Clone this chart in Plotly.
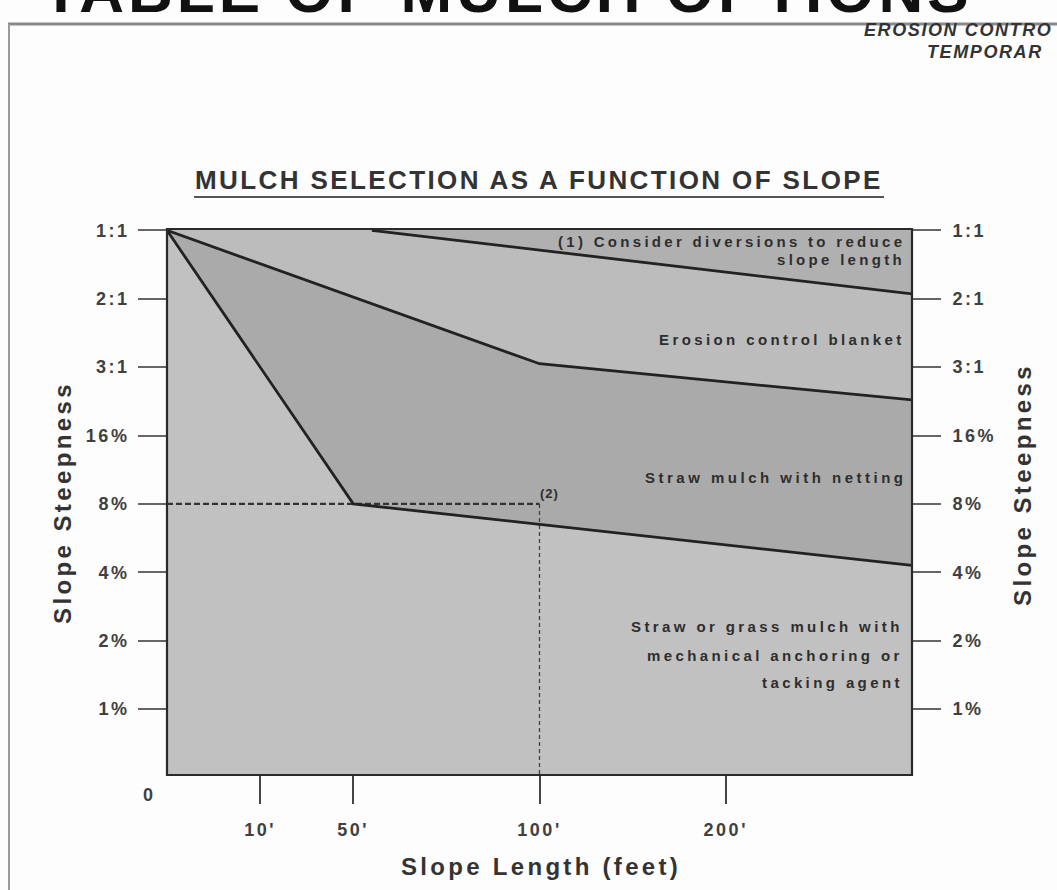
import plotly.graph_objects as go

# ---------------- data ----------------
length_labels = ["10'", "50'", "100'", "200'"]
length_pos = [1, 2, 4, 6]
steep_labels = ["1%", "2%", "4%", "8%", "16%", "3:1", "2:1", "1:1"]
steep_pos = [0, 1, 2, 3, 4, 5, 6, 7]
x_max = 8
y_min, y_max = -0.965, 7.02

# boundary lines (x = slope-length position, y = steepness position)
netting_x = [0, 2, 8]          # lower limit of "straw mulch with netting"
netting_y = [7, 3, 2.1]
blanket_x = [0, 4, 8]          # lower limit of "erosion control blanket"
blanket_y = [7, 5.05, 4.52]
diversion_x = [2.2, 8]         # lower limit of "consider diversions"
diversion_y = [7, 6.07]
ref_len = 4                    # 100'
ref_steep = 3                  # 8%

# ---------------- layout helpers ----------------
W, H = 1057, 890
L, R, T, B = 167, 912, 229, 775


def px(xp):
    return (xp - L) / (R - L)


def py(yp):
    return (B - yp) / (B - T)


def sp(text, ls):
    return f"<span style='letter-spacing:{ls}px'>{text}</span>"


FONT = "Liberation Sans, Arial, sans-serif"
LINE = "#222222"

fig = go.Figure()

# region fills
fig.add_trace(go.Scatter(x=netting_x + blanket_x[::-1], y=netting_y + blanket_y[::-1],
                         fill="toself", fillcolor="#aaaaaa", mode="none", hoverinfo="skip"))
fig.add_trace(go.Scatter(x=blanket_x + diversion_x[::-1], y=blanket_y + diversion_y[::-1],
                         fill="toself", fillcolor="#bcbcbc", mode="none", hoverinfo="skip"))
fig.add_trace(go.Scatter(x=[0] + diversion_x + [x_max, 0], y=[7] + diversion_y + [y_max, y_max],
                         fill="toself", fillcolor="#b0b0b0", mode="none", hoverinfo="skip"))

# dashed reference lines
fig.add_trace(go.Scatter(x=[0, ref_len], y=[ref_steep, ref_steep], mode="lines",
                         line=dict(color="#333333", width=2.2, dash="6px,3px"), hoverinfo="skip"))
fig.add_trace(go.Scatter(x=[ref_len, ref_len], y=[ref_steep, y_min], mode="lines",
                         line=dict(color="#444444", width=1.3, dash="4px,3px"), hoverinfo="skip"))

# boundary lines
for xs, ys in [(netting_x, netting_y), (blanket_x, blanket_y), (diversion_x, diversion_y)]:
    fig.add_trace(go.Scatter(x=xs, y=ys, mode="lines", line=dict(color=LINE, width=2.8),
                             hoverinfo="skip"))

# invisible trace for right axis
fig.add_trace(go.Scatter(x=[0], y=[0], yaxis="y2", mode="markers", marker=dict(opacity=0),
                         hoverinfo="skip"))

tickfont = dict(family=FONT, size=18, color="#404040", weight="bold")

fig.update_layout(
    width=W, height=H,
    margin=dict(l=L, r=W - R, t=T, b=H - B, pad=0),
    paper_bgcolor="#fdfdfd",
    plot_bgcolor="#c1c1c1",
    showlegend=False,
    xaxis=dict(range=[0, x_max], showgrid=False, zeroline=False,
               tickvals=length_pos, ticktext=[sp(t, 2.5) for t in length_labels],
               ticks="outside", ticklen=28, tickwidth=2, tickcolor="#444444",
               ticklabelstandoff=10, tickfont=tickfont, fixedrange=True),
    yaxis=dict(range=[y_min, y_max], showgrid=False, zeroline=False,
               tickvals=steep_pos, ticktext=[sp(t, 2.5) for t in steep_labels],
               ticks="outside", ticklen=28, tickwidth=1.6, tickcolor="#666666",
               ticklabelstandoff=5, tickfont=tickfont),
    yaxis2=dict(range=[y_min, y_max], overlaying="y", side="right", showgrid=False,
                zeroline=False, tickvals=steep_pos, ticktext=[sp(t, 2.5) for t in steep_labels],
                ticks="outside", ticklen=28, tickwidth=1.6, tickcolor="#666666",
                ticklabelstandoff=8, tickfont=tickfont),
)

# plot border
fig.add_shape(type="rect", xref="paper", yref="paper", x0=0, x1=1, y0=0, y1=1,
              line=dict(color="#2a2a2a", width=2.2), layer="above")
# page frame
fig.add_shape(type="line", xref="paper", yref="paper", x0=px(8), x1=px(1057), y0=py(24), y1=py(24),
              line=dict(color="#8a8a8a", width=3))
fig.add_shape(type="line", xref="paper", yref="paper", x0=px(9), x1=px(9), y0=py(24), y1=py(890),
              line=dict(color="#9a9a9a", width=2))
# title underline
fig.add_shape(type="line", xref="paper", yref="paper", x0=px(194), x1=px(884), y0=py(197), y1=py(197),
              line=dict(color="#555555", width=2))

txt = "#2e2e2e"


def ann(text, x, y, size, ls, xanchor="center", yanchor="middle", ref="paper", color=txt,
        angle=0, style="normal", weight="bold"):
    fig.add_annotation(text=sp(text, ls), x=x, y=y, xref=ref if ref == "paper" else "x",
                       yref=ref if ref == "paper" else "y", showarrow=False,
                       xanchor=xanchor, yanchor=yanchor, textangle=angle,
                       font=dict(family=FONT, size=size, color=color, weight=weight, style=style))


# header (cut off at the top of the page, as in the scan)
ann("TABLE OF MULCH OPTIONS", px(40), py(-10), 62, 4, xanchor="left", color="#111111")
ann("EROSION CONTRO", px(862), py(30), 18, 1.6, xanchor="left", style="italic", color="#333333")
ann("TEMPORAR", px(925), py(52), 18, 1.6, xanchor="left", style="italic", color="#333333")

# chart title and axis titles
ann("MULCH SELECTION AS A FUNCTION OF SLOPE", px(538.5), py(180), 26, 2.4, color="#333333")
ann("Slope Length (feet)", px(541), py(866), 24, 3.3, color="#333333")
ann("Slope Steepness", px(62), py(503), 24, 3.4, angle=-90, color="#333333")
ann("Slope Steepness", px(1022), py(485), 24, 3.4, angle=-90, color="#333333")
ann("0", px(148), py(795), 18, 0, color="#404040")

# region labels (data coordinates)
xr = 7.95
ann("(1) Consider diversions to reduce", xr, 6.84, 15, 3.3, xanchor="right", ref="data")
ann("slope length", xr, 6.58, 15, 3.3, xanchor="right", ref="data")
ann("Erosion control blanket", xr, 5.41, 15, 3.4, xanchor="right", ref="data")
ann("Straw mulch with netting", xr + 0.02, 3.39, 15, 3.5, xanchor="right", ref="data")
ann("Straw or grass mulch with", xr - 0.02, 1.2, 15, 3.4, xanchor="right", ref="data")
ann("mechanical anchoring or", xr - 0.02, 0.79, 15, 3.4, xanchor="right", ref="data")
ann("tacking agent", xr - 0.02, 0.395, 15, 3.4, xanchor="right", ref="data")
ann("(2)", ref_len - 0.02, ref_steep + 0.15, 13, 1, xanchor="left", ref="data")

fig.write_html("out.html", config={"displayModeBar": False},
               post_script="document.body.style.margin='0px';")
